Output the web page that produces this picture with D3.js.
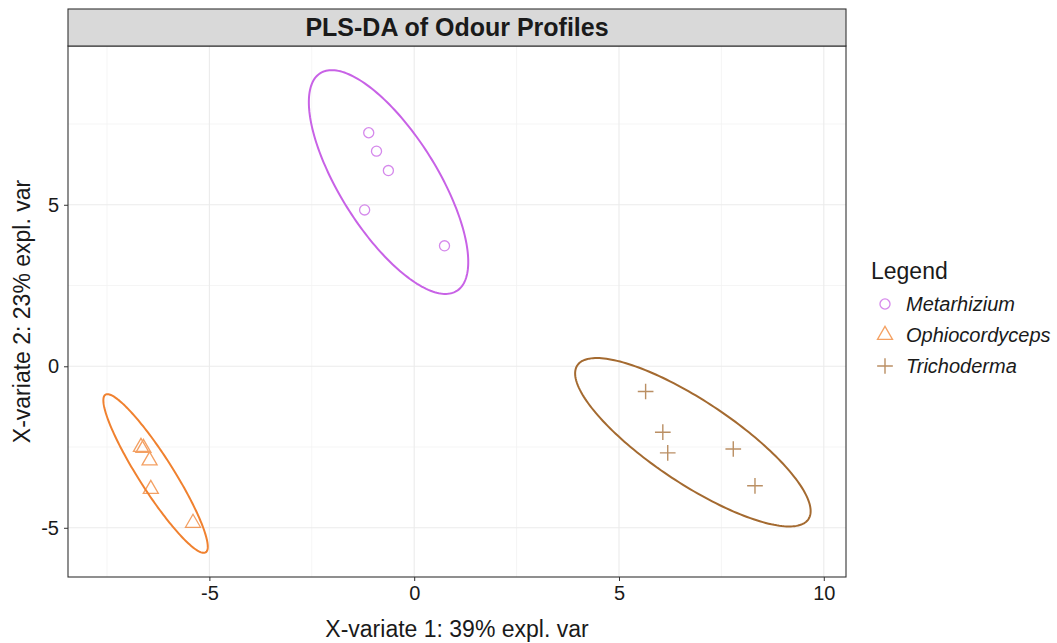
<!DOCTYPE html>
<html>
<head>
<meta charset="utf-8">
<script src="https://cdn.jsdelivr.net/npm/d3@7"></script>
<style>
  body { margin: 0; background: #fff; }
  text { font-family: "Liberation Sans", Arial, sans-serif; }
</style>
</head>
<body>
<svg id="chart" width="1057" height="643"></svg>
<script>
const groups = ['Metarhizium', 'Ophiocordyceps', 'Trichoderma'];
const colors = ['#C862E6', '#F0812F', '#A46A30'];

const metX = [-1.11, -0.92, -0.63, -1.21, 0.74];
const metY = [7.23, 6.66, 6.06, 4.84, 3.73];
const ophX = [-6.67, -6.61, -6.46, -6.43, -5.40];
const ophY = [-2.50, -2.53, -2.92, -3.80, -4.85];
const triX = [5.65, 6.07, 6.19, 7.79, 8.32];
const triY = [-0.78, -2.04, -2.68, -2.56, -3.70];

const xTicks = [-5, 0, 5, 10];
const yTicks = [-5, 0, 5];

const series = [
  { name: groups[0], xs: metX, ys: metY, color: colors[0], shape: 'circle' },
  { name: groups[1], xs: ophX, ys: ophY, color: colors[1], shape: 'triangle' },
  { name: groups[2], xs: triX, ys: triY, color: colors[2], shape: 'plus' }
];

// 95% confidence ellipse (like ellipse::ellipse in mixOmics)
function ellipse(xs, ys, level) {
  const n = xs.length;
  const mx = d3.mean(xs), my = d3.mean(ys);
  let sxx = 0, syy = 0, sxy = 0;
  for (let i = 0; i < n; i++) {
    sxx += (xs[i] - mx) ** 2;
    syy += (ys[i] - my) ** 2;
    sxy += (xs[i] - mx) * (ys[i] - my);
  }
  sxx /= n - 1; syy /= n - 1; sxy /= n - 1;
  const t = Math.sqrt(-2 * Math.log(1 - level)); // chi2 quantile, df = 2
  const sx = Math.sqrt(sxx), sy = Math.sqrt(syy);
  const r = sxy / (sx * sy);
  const d = Math.acos(r);
  const pts = [];
  for (let k = 0; k <= 200; k++) {
    const a = -Math.PI + 2 * Math.PI * k / 200;
    pts.push([mx + t * sx * Math.cos(a + d / 2), my + t * sy * Math.cos(a - d / 2)]);
  }
  return pts;
}

const svg = d3.select('#chart');
const pL = 68, pR = 846, pT = 46, pB = 577;

const ells = series.map(s => ellipse(s.xs, s.ys, 0.95));
const allX = ells.flat().map(p => p[0]).concat(series.flatMap(s => s.xs));
const allY = ells.flat().map(p => p[1]).concat(series.flatMap(s => s.ys));
const [x0, x1] = d3.extent(allX), [y0, y1] = d3.extent(allY);
const ex = (x1 - x0) * 0.05, ey = (y1 - y0) * 0.05;

const x = d3.scaleLinear().domain([x0 - ex, x1 + ex]).range([pL, pR]);
const y = d3.scaleLinear().domain([y0 - ey, y1 + ey]).range([pB, pT]);

// grid
const minorX = d3.range(-7.5, 12, 5).filter(v => x(v) > pL && x(v) < pR);
const minorY = d3.range(-7.5, 12, 5).filter(v => y(v) > pT && y(v) < pB);
const grid = svg.append('g');
grid.selectAll('.mx').data(minorX).join('line')
  .attr('x1', d => x(d)).attr('x2', d => x(d)).attr('y1', pT).attr('y2', pB)
  .attr('stroke', '#f2f2f2').attr('stroke-width', 0.8);
grid.selectAll('.my').data(minorY).join('line')
  .attr('y1', d => y(d)).attr('y2', d => y(d)).attr('x1', pL).attr('x2', pR)
  .attr('stroke', '#f2f2f2').attr('stroke-width', 0.8);
grid.selectAll('.gx').data(xTicks).join('line')
  .attr('x1', d => x(d)).attr('x2', d => x(d)).attr('y1', pT).attr('y2', pB)
  .attr('stroke', '#ebebeb').attr('stroke-width', 1.1);
grid.selectAll('.gy').data(yTicks).join('line')
  .attr('y1', d => y(d)).attr('y2', d => y(d)).attr('x1', pL).attr('x2', pR)
  .attr('stroke', '#ebebeb').attr('stroke-width', 1.1);

// ellipses
const line = d3.line().x(d => x(d[0])).y(d => y(d[1]));
svg.append('g').selectAll('path').data(series).join('path')
  .attr('d', (s, i) => line(ells[i]))
  .attr('fill', 'none')
  .attr('stroke', s => s.color)
  .attr('stroke-width', 2);

// points
function drawShape(g, shape, color, size) {
  if (shape === 'circle') {
    g.append('circle').attr('r', size * 0.36).attr('fill', 'none')
      .attr('stroke', color).attr('stroke-width', 1.3);
  } else if (shape === 'triangle') {
    g.append('path').attr('d', d3.symbol(d3.symbolTriangle, size * size * 0.5)())
      .attr('fill', 'none').attr('stroke', color).attr('stroke-width', 1.3);
  } else {
    const h = size * 0.56;
    g.append('path').attr('d', `M${-h},0H${h}M0,${-h}V${h}`)
      .attr('stroke', color).attr('stroke-width', 1.4);
  }
}

series.forEach(s => {
  const g = svg.append('g').attr('opacity', 0.75);
  s.xs.forEach((v, i) => {
    const pg = g.append('g').attr('transform', `translate(${x(v)},${y(s.ys[i])})`);
    drawShape(pg, s.shape, s.color, 14);
  });
});

// panel border
svg.append('rect').attr('x', pL).attr('y', pT)
  .attr('width', pR - pL).attr('height', pB - pT)
  .attr('fill', 'none').attr('stroke', '#333').attr('stroke-width', 1.1);

// strip
svg.append('rect').attr('x', pL).attr('y', 9)
  .attr('width', pR - pL).attr('height', pT - 9)
  .attr('fill', '#d9d9d9').attr('stroke', '#333').attr('stroke-width', 1.1);
svg.append('text').attr('x', (pL + pR) / 2).attr('y', 36)
  .attr('text-anchor', 'middle').attr('font-size', 25).attr('font-weight', 'bold')
  .attr('fill', '#1a1a1a').text('PLS-DA of Odour Profiles');

// axes
const fmt = d => String(d);
const xAxis = svg.append('g').attr('transform', `translate(0,${pB})`)
  .call(d3.axisBottom(x).tickValues(xTicks).tickFormat(fmt).tickSize(4).tickPadding(5));
const yAxis = svg.append('g').attr('transform', `translate(${pL},0)`)
  .call(d3.axisLeft(y).tickValues(yTicks).tickFormat(fmt).tickSize(4).tickPadding(5));
[xAxis, yAxis].forEach(a => {
  a.select('.domain').remove();
  a.selectAll('.tick line').attr('stroke', '#333');
  a.selectAll('.tick text').attr('font-size', 20).attr('fill', '#1a1a1a')
    .style('font-family', '"Liberation Sans", Arial, sans-serif');
});

svg.append('text').attr('x', (pL + pR) / 2).attr('y', 637)
  .attr('text-anchor', 'middle').attr('font-size', 23).attr('fill', '#1a1a1a')
  .text('X-variate 1: 39% expl. var');
svg.append('text').attr('transform', `translate(30,${(pT + pB) / 2}) rotate(-90)`)
  .attr('text-anchor', 'middle').attr('font-size', 23).attr('fill', '#1a1a1a')
  .text('X-variate 2: 23% expl. var');

// legend
const lg = svg.append('g').attr('transform', 'translate(871,0)');
lg.append('text').attr('x', 0).attr('y', 279).attr('font-size', 23)
  .attr('fill', '#1a1a1a').text('Legend');
series.forEach((s, i) => {
  const yy = 304 + i * 31;
  const g = lg.append('g').attr('transform', `translate(14,${yy})`).attr('opacity', 0.75);
  drawShape(g, s.shape, s.color, 14);
  lg.append('text').attr('x', 35).attr('y', yy + 7).attr('font-size', 20)
    .attr('font-style', 'italic').attr('fill', '#1a1a1a').text(s.name);
});
</script>
</body>
</html>
